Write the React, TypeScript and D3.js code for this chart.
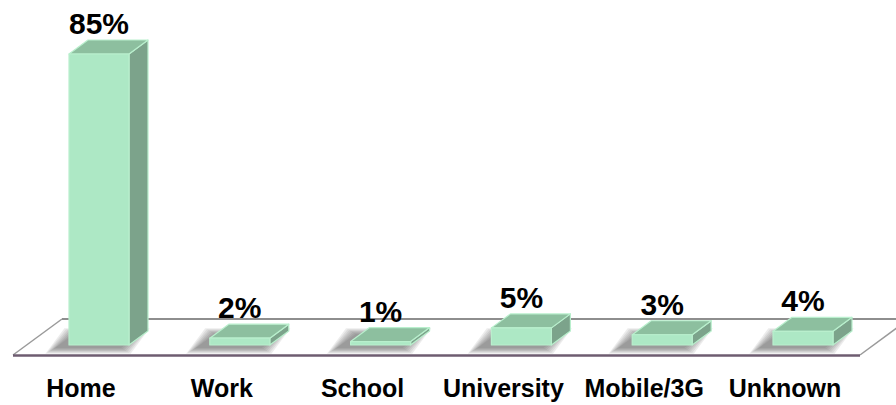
import React from "react";
import * as d3 from "d3";

const categories = ["Home", "Work", "School", "University", "Mobile/3G", "Unknown"];
const values = [85, 2, 1, 5, 3, 4];
const valueLabels = ["85%", "2%", "1%", "5%", "3%", "4%"];

const W = 896;
const H = 405;
const BAR_W = 60;
const DX = 19;
const DY = 14;
const BASE_Y = 345;
const SHADOW_STEPS = [0, 1, 2, 3, 4, 5, 6];

export default function App() {
  const x = d3.scalePoint<string>().domain(categories).range([99, 803]);
  const y = d3.scaleLinear().domain([0, 85]).range([BASE_Y, 54]);

  const floor = [
    [13, 355],
    [860, 355],
    [909, 319],
    [62, 319],
  ];
  const floorPath = "M" + floor.map((p) => p.join(",")).join("L") + "Z";

  return (
    <svg
      width={W}
      height={H}
      style={{ position: "absolute", left: 0, top: 0, background: "#fff" }}
      fontFamily="'Liberation Sans', Arial, sans-serif"
    >
      <defs>
        <clipPath id="floorClip">
          <path d={floorPath} />
        </clipPath>
      </defs>
      {/* floor */}
      <path d={floorPath} fill="#ffffff" stroke="none" />

      {/* shadows (soft, built from stacked translucent layers) */}
      <g clipPath="url(#floorClip)">
        {categories.map((c) => {
          const cx = x(c)!;
          const x0 = cx - BAR_W / 2;
          const ox = -14;
          const oy = 3;
          return SHADOW_STEPS.map((k) => {
            const e = k * 1.6;
            const pts = [
              [x0 + ox - e, BASE_Y + oy + e * 0.6],
              [x0 + BAR_W + ox + 6 + e, BASE_Y + oy + e * 0.6],
              [x0 + BAR_W + DX + ox + 6 + e, BASE_Y - DY + oy - e * 0.6],
              [x0 + DX + ox - e, BASE_Y - DY + oy - e * 0.6],
            ];
            return (
              <path
                key={"s" + c + k}
                d={"M" + pts.map((p) => p.join(",")).join("L") + "Z"}
                fill="#444444"
                fillOpacity={0.1}
              />
            );
          });
        })}
      </g>

      <line x1={62} y1={319} x2={909} y2={319} stroke="#8e8e8e" strokeWidth={2} />
      <line x1={13} y1={355} x2={62} y2={319} stroke="#9a9a9a" strokeWidth={1.5} />
      <line x1={860} y1={355} x2={909} y2={319} stroke="#9a9a9a" strokeWidth={1.5} />
      <line x1={13} y1={355.5} x2={860} y2={355.5} stroke="#6e5c70" strokeWidth={2.5} />

      {/* bars */}
      {categories.map((c, i) => {
        const cx = x(c)!;
        const x0 = cx - BAR_W / 2;
        const x1 = cx + BAR_W / 2;
        const top = y(values[i]);
        const front = `M${x0},${BASE_Y}L${x1},${BASE_Y}L${x1},${top}L${x0},${top}Z`;
        const side = `M${x1},${BASE_Y}L${x1 + DX},${BASE_Y - DY}L${x1 + DX},${top - DY}L${x1},${top}Z`;
        const topFace = `M${x0},${top}L${x1},${top}L${x1 + DX},${top - DY}L${x0 + DX},${top - DY}Z`;
        return (
          <g key={c} strokeWidth={1.2} stroke="#b9efcd" strokeLinejoin="round">
            <path d={side} fill="#7ca38b" />
            <path d={topFace} fill="#8dbf9f" />
            <path d={front} fill="#ade8c5" />
          </g>
        );
      })}

      {/* value labels */}
      {categories.map((c, i) => (
        <text
          key={"v" + c}
          x={x(c)!}
          y={y(values[i]) - 20}
          textAnchor="middle"
          fontSize={30}
          fontWeight="bold"
          fill="#000"
        >
          {valueLabels[i]}
        </text>
      ))}

      {/* category labels */}
      {categories.map((c) => (
        <text
          key={"c" + c}
          x={x(c)! - 18}
          y={397}
          textAnchor="middle"
          fontSize={25}
          fontWeight="bold"
          fill="#000"
        >
          {c}
        </text>
      ))}
    </svg>
  );
}
